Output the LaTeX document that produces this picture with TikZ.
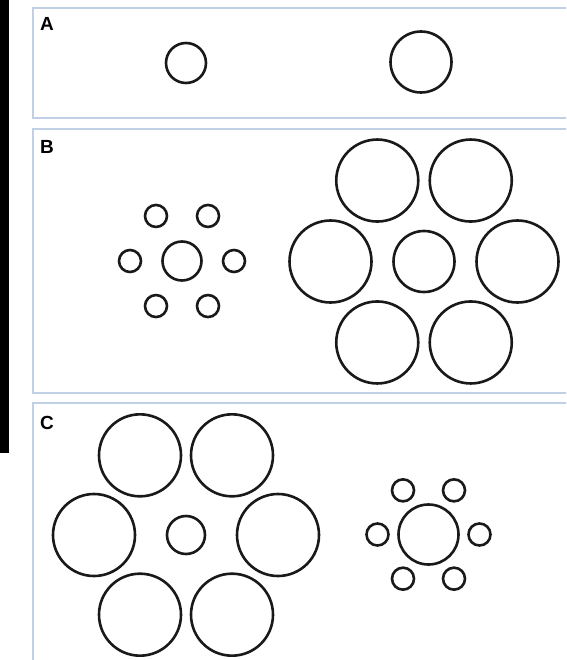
\documentclass[tikz,border=0pt]{standalone}
\usepackage{fontspec}
\setmainfont{Liberation Sans}
\begin{document}
\begin{tikzpicture}[x=1pt,y=-1pt,
  ring/.style={circle,draw=black!90,line width=2.6pt,inner sep=0pt,fill=none},
  panel/.style={draw=panelblue,line width=2pt,fill=white},
  plabel/.style={anchor=base west,inner sep=0pt,font=\bfseries\fontsize{19}{19}\selectfont}]
\definecolor{panelblue}{HTML}{C2D0E5}
\useasboundingbox (0,0) rectangle (566,660);
\clip (0,0) rectangle (566,660);
\fill[white] (0,0) rectangle (566,660);
% black bar on the left
\fill[black] (0,0) rectangle (9,453);
% panels
\draw[panel] (33,8) rectangle (580,118);
\draw[panel] (33,129) rectangle (580,393);
\draw[panel] (33,403) rectangle (580,680);
\node[plabel] (la) at (40,31) {A};
\node[plabel] (lb) at (40,154) {B};
\node[plabel] (lc) at (40,429) {C};
% panel A
\node[ring,minimum size=40pt] (a1) at (186,63) {};
\node[ring,minimum size=61pt] (a2) at (421,62) {};
% panel B, small surround
\node[ring,minimum size=39pt] (bs0) at (182,261) {};
\foreach \i/\a in {1/0,2/60,3/120,4/180,5/240,6/300}
  \node[ring,minimum size=22pt] (bs\i) at ({182+52*cos(\a)},{261+52*sin(\a)}) {};
% panel B, large surround
\node[ring,minimum size=61pt] (bl0) at (424,261.5) {};
\foreach \i/\a in {1/0,2/60,3/120,4/180,5/240,6/300}
  \node[ring,minimum size=82pt] (bl\i) at ({424+93.5*cos(\a)},{261.5+93.5*sin(\a)}) {};
% panel C, large surround
\node[ring,minimum size=38pt] (cl0) at (186,535) {};
\foreach \i/\a in {1/0,2/60,3/120,4/180,5/240,6/300}
  \node[ring,minimum size=82pt] (cl\i) at ({186+92*cos(\a)},{535+92*sin(\a)}) {};
% panel C, small surround
\node[ring,minimum size=60pt] (cs0) at (428.5,534.5) {};
\foreach \i/\a in {1/0,2/60,3/120,4/180,5/240,6/300}
  \node[ring,minimum size=22pt] (cs\i) at ({428.5+51*cos(\a)},{534.5+51*sin(\a)}) {};
\end{tikzpicture}
\end{document}
